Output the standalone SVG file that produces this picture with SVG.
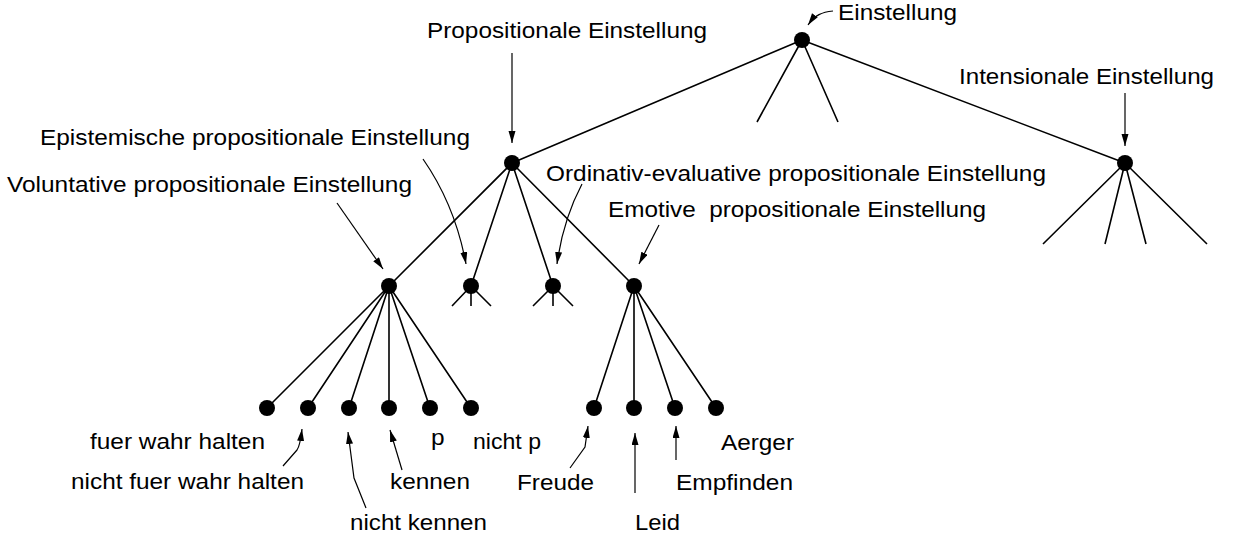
<svg xmlns="http://www.w3.org/2000/svg" width="1235" height="539" viewBox="0 0 1235 539">
<style>
.t{font-family:"Liberation Sans",Arial,sans-serif;font-size:21.5px;fill:#000}
.e{stroke:#000;stroke-width:1.6;fill:none}
.a{stroke:#000;stroke-width:1.2;fill:none;marker-end:url(#ah)}
.n{fill:#000}
</style>
<defs>
<marker id="ah" markerUnits="userSpaceOnUse" markerWidth="13" markerHeight="8" refX="12" refY="3.5" orient="auto">
<path d="M0,0 L12,3.5 L0,7 z" fill="#000"/>
</marker>
</defs>
<rect width="1235" height="539" fill="#fff"/>
<g id="connectors">
<path class="e" d="M802,40 L512,163 M802,40 L1125,163 M802,40 L757,122 M802,40 L838,122"/>
<path class="e" d="M512,163 L389,286 M512,163 L471,286 M512,163 L553,286 M512,163 L634,286"/>
<path class="e" d="M1125,163 L1043,244 M1125,163 L1105,244 M1125,163 L1146,244 M1125,163 L1207,244"/>
<path class="e" d="M471,286 L452,306 M471,286 L471,306 M471,286 L491,306 M553,286 L533,306 M553,286 L553,306 M553,286 L573,306"/>
<path class="e" d="M389,286 L267,408 M389,286 L308,408 M389,286 L349,408 M389,286 L389,408 M389,286 L430,408 M389,286 L471,408"/>
<path class="e" d="M634,286 L594,408 M634,286 L634,408 M634,286 L675,408 M634,286 L716,408"/>
<path class="a" d="M833,11 C822,12 815,15 808,25"/>
<path class="a" d="M512,53 L512,143"/>
<path class="a" d="M1125,93 L1125,146"/>
<path class="a" d="M423,159 Q455,205 466,264"/>
<path class="a" d="M582,184 Q563,220 557,264"/>
<path class="a" d="M337,203 L383,269"/>
<path class="a" d="M659,225 L639,264"/>
<path class="a" d="M283,466 L297,450 Q300,446 302,429"/>
<path class="a" d="M366,508 L354,478 L348,432"/>
<path class="a" d="M402,470 L390,430"/>
<path class="a" d="M570,468 L585,447 L588,426"/>
<path class="a" d="M635,493 L635,433"/>
<path class="a" d="M676,460 L676,426"/>
</g>
<g id="n-einstellung"><circle class="n" cx="802" cy="40" r="8"/><text class="t" x="838" y="20" textLength="119" lengthAdjust="spacingAndGlyphs">Einstellung</text></g>
<g id="n-propositional"><circle class="n" cx="512" cy="163" r="8"/><text class="t" x="427" y="38" textLength="280" lengthAdjust="spacingAndGlyphs">Propositionale Einstellung</text></g>
<g id="n-intensional"><circle class="n" cx="1125" cy="163" r="8"/><text class="t" x="959" y="84" textLength="255" lengthAdjust="spacingAndGlyphs">Intensionale Einstellung</text></g>
<g id="n-voluntativ"><circle class="n" cx="389" cy="286" r="8"/><text class="t" x="7" y="192" textLength="405" lengthAdjust="spacingAndGlyphs">Voluntative propositionale Einstellung</text></g>
<g id="n-epistemisch"><circle class="n" cx="471" cy="286" r="8"/><text class="t" x="40" y="145" textLength="430" lengthAdjust="spacingAndGlyphs">Epistemische propositionale Einstellung</text></g>
<g id="n-ordinativ"><circle class="n" cx="553" cy="286" r="8"/><text class="t" x="546" y="181" textLength="500" lengthAdjust="spacingAndGlyphs">Ordinativ-evaluative propositionale Einstellung</text></g>
<g id="n-emotiv"><circle class="n" cx="634" cy="286" r="8"/><text class="t" x="608" y="217" textLength="378" lengthAdjust="spacingAndGlyphs" xml:space="preserve" style="white-space:pre">Emotive  propositionale Einstellung</text></g>
<g id="n-fuer-wahr"><circle class="n" cx="267" cy="408" r="8"/><text class="t" x="90" y="449" textLength="175" lengthAdjust="spacingAndGlyphs">fuer wahr halten</text></g>
<g id="n-nicht-fuer-wahr"><circle class="n" cx="308" cy="408" r="8"/><text class="t" x="71" y="489" textLength="233" lengthAdjust="spacingAndGlyphs">nicht fuer wahr halten</text></g>
<g id="n-nicht-kennen"><circle class="n" cx="349" cy="408" r="8"/><text class="t" x="350" y="530" textLength="137" lengthAdjust="spacingAndGlyphs">nicht kennen</text></g>
<g id="n-kennen"><circle class="n" cx="389" cy="408" r="8"/><text class="t" x="390" y="489" textLength="80" lengthAdjust="spacingAndGlyphs">kennen</text></g>
<g id="n-p"><circle class="n" cx="430" cy="408" r="8"/><text class="t" x="431" y="445" textLength="13.6" lengthAdjust="spacingAndGlyphs">p</text></g>
<g id="n-nicht-p"><circle class="n" cx="471" cy="408" r="8"/><text class="t" x="473" y="449" textLength="68" lengthAdjust="spacingAndGlyphs">nicht p</text></g>
<g id="n-freude"><circle class="n" cx="594" cy="408" r="8"/><text class="t" x="517" y="490" textLength="77" lengthAdjust="spacingAndGlyphs">Freude</text></g>
<g id="n-leid"><circle class="n" cx="634" cy="408" r="8"/><text class="t" x="635" y="530" textLength="45" lengthAdjust="spacingAndGlyphs">Leid</text></g>
<g id="n-empfinden"><circle class="n" cx="675" cy="408" r="8"/><text class="t" x="676" y="490" textLength="117" lengthAdjust="spacingAndGlyphs">Empfinden</text></g>
<g id="n-aerger"><circle class="n" cx="716" cy="408" r="8"/><text class="t" x="721" y="450" textLength="73" lengthAdjust="spacingAndGlyphs">Aerger</text></g>
</svg>
